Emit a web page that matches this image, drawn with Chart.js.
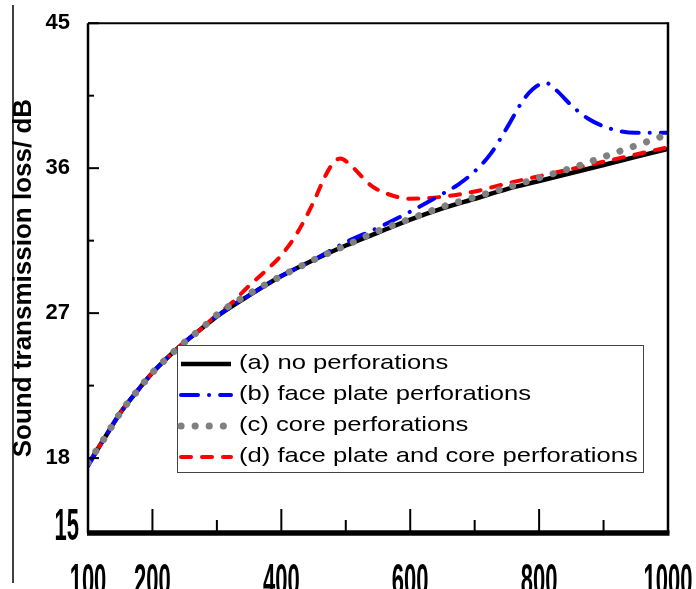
<!DOCTYPE html>
<html>
<head>
<meta charset="utf-8">
<script src="https://cdn.jsdelivr.net/npm/chart.js@4.4.1/dist/chart.umd.min.js"></script>
<style>
  html, body { margin: 0; padding: 0; background: #fff; }
  canvas { display: block; }
</style>
</head>
<body>
<canvas id="stl" width="696" height="589"></canvas>
<script>
// frequency (Hz) and sound transmission loss (dB)
const freqA = [100, 125, 150, 175, 200, 225, 250, 275, 300, 350, 400, 450, 500, 550, 600, 650, 700, 750, 800, 850, 900, 950, 1000];
const lossA = [17.6, 19.2, 20.8, 22.1, 23.3, 24.3, 25.2, 26.0, 26.8, 28.1, 29.3, 30.3, 31.2, 32.0, 32.8, 33.5, 34.1, 34.7, 35.2, 35.7, 36.2, 36.7, 37.2];

const freqB = [100, 125, 150, 175, 200, 225, 250, 275, 300, 350, 400, 450, 500, 550, 600, 650, 675, 700, 725, 750, 775, 790, 810, 825, 850, 875, 900, 925, 950, 1000];
const lossB = [17.5, 19.2, 20.8, 22.1, 23.3, 24.3, 25.2, 26.0, 26.8, 28.1, 29.3, 30.3, 31.4, 32.3, 33.3, 34.4, 35.0, 35.8, 36.9, 38.5, 40.2, 40.9, 41.3, 40.9, 39.9, 39.1, 38.6, 38.3, 38.2, 38.2];

const freqC = [100, 125, 150, 175, 200, 225, 250, 275, 300, 350, 400, 450, 500, 550, 600, 650, 700, 750, 800, 850, 900, 950, 1000];
const lossC = [17.7, 19.2, 20.8, 22.1, 23.3, 24.3, 25.2, 26.0, 26.9, 28.2, 29.3, 30.3, 31.2, 32.1, 32.85, 33.6, 34.2, 34.8, 35.4, 36.0, 36.7, 37.4, 38.1];

const freqD = [100, 125, 150, 175, 200, 225, 250, 275, 300, 325, 350, 375, 400, 425, 450, 468, 482, 492, 507, 540, 565, 600, 630, 665, 700, 750, 800, 850, 900, 950, 1000];
const lossD = [17.6, 19.2, 20.8, 22.1, 23.3, 24.3, 25.2, 26.0, 26.9, 27.7, 28.7, 29.6, 30.6, 32.0, 33.9, 35.5, 36.4, 36.6, 36.2, 34.9, 34.4, 34.1, 34.15, 34.3, 34.55, 35.05, 35.5, 35.95, 36.4, 36.85, 37.3];

const seriesLabels = [
  '(a) no perforations',
  '(b) face plate perforations',
  '(c) core perforations',
  '(d) face plate and core perforations'
];

const xTickVals = [100, 200, 300, 400, 500, 600, 700, 800, 900, 1000];
const xLabelVals = [100, 200, 400, 600, 800, 1000];
const yTickVals = [18, 27, 36, 45];
const yMinorVals = [22.5, 31.5, 40.5];
const yBottom = 13.35;      // where the axis floor sits on the original
const yBottomLabel = '15';  // ...and what it is labelled

function pts(xs, ys) {
  return xs.map((x, i) => ({ x: x, y: ys[i] }));
}

function seg(ctx, x1, y1, x2, y2) {
  ctx.beginPath();
  ctx.moveTo(x1, y1);
  ctx.lineTo(x2, y2);
  ctx.stroke();
}

// axis box, inward ticks and the stretched numerals
const framePlugin = {
  id: 'frame',
  afterDraw(chart) {
    const { ctx, chartArea: a, scales: { x, y } } = chart;
    ctx.save();
    ctx.strokeStyle = '#000';
    ctx.setLineDash([]);

    ctx.lineWidth = 1.5;
    seg(ctx, 13, 5, 13, 583);

    ctx.lineWidth = 2.5;
    seg(ctx, a.left, a.top, a.left, a.bottom);
    seg(ctx, a.right, a.top - 1, a.right, a.bottom);
    ctx.lineWidth = 2;
    seg(ctx, a.left, a.top, a.right, a.top);
    ctx.lineWidth = 5.5;
    seg(ctx, a.left - 1, a.bottom, a.right + 1.5, a.bottom);

    ctx.lineWidth = 2;
    xTickVals.forEach(v => {
      if (v === 100 || v === 1000) return;
      const px = x.getPixelForValue(v);
      const len = xLabelVals.includes(v) ? 24 : 13;
      seg(ctx, px, a.bottom, px, a.bottom - len);
    });
    yTickVals.forEach(v => {
      const py = y.getPixelForValue(v);
      seg(ctx, a.left, py, a.left + 11, py);
    });
    yMinorVals.forEach(v => {
      const py = y.getPixelForValue(v);
      seg(ctx, a.left, py, a.left + 6, py);
    });

    ctx.fillStyle = '#000';
    ctx.font = 'bold 22px "Liberation Sans", Arial, sans-serif';
    ctx.textBaseline = 'alphabetic';
    ctx.textAlign = 'center';
    xLabelVals.forEach(v => {
      ctx.save();
      ctx.translate(x.getPixelForValue(v), 595);
      ctx.scale(1, 2);
      ctx.fillText(String(v), 0, 0);
      ctx.restore();
    });
    ctx.textAlign = 'right';
    ctx.save();
    ctx.translate(79, 540);
    ctx.scale(1, 2);
    ctx.fillText(yBottomLabel, 0, 0);
    ctx.restore();

    ctx.restore();
  }
};

// boxed legend sitting inside the plot
const legendPlugin = {
  id: 'boxLegend',
  afterDraw(chart) {
    const ctx = chart.ctx;
    const bx = 177, by = 345, bw = 466, bh = 127;
    ctx.save();
    ctx.fillStyle = '#fff';
    ctx.fillRect(bx, by, bw, bh);
    ctx.strokeStyle = '#444';
    ctx.lineWidth = 1;
    ctx.setLineDash([]);
    ctx.strokeRect(bx + 0.5, by + 0.5, bw, bh);

    ctx.font = '21px "Liberation Sans", Arial, sans-serif';
    ctx.textBaseline = 'middle';
    ctx.textAlign = 'left';
    chart.data.datasets.forEach((ds, i) => {
      const ry = 363 + i * 31;
      ctx.strokeStyle = ds.borderColor;
      ctx.lineWidth = ds.borderWidth;
      ctx.lineCap = ds.borderCapStyle || 'butt';
      ctx.setLineDash(ds.borderDash || []);
      seg(ctx, 181, ry + 1, 231, ry + 1);
      ctx.setLineDash([]);
      ctx.fillStyle = '#000';
      ctx.save();
      ctx.translate(239, ry);
      ctx.scale(1.22, 1);
      ctx.fillText(ds.label, 0, 0);
      ctx.restore();
    });
    ctx.restore();
  }
};

new Chart(document.getElementById('stl'), {
  type: 'line',
  data: {
    datasets: [
      {
        label: seriesLabels[0],
        data: pts(freqA, lossA),
        borderColor: '#000000',
        borderWidth: 4.5,
        order: 4
      },
      {
        label: seriesLabels[1],
        data: pts(freqB, lossB),
        borderColor: '#0000ff',
        borderWidth: 4,
        borderDash: [17, 11, 0.1, 11],
        borderCapStyle: 'round',
        order: 2
      },
      {
        label: seriesLabels[2],
        data: pts(freqC, lossC),
        borderColor: '#808080',
        borderWidth: 7,
        borderDash: [0.1, 14],
        borderCapStyle: 'round',
        order: 1
      },
      {
        label: seriesLabels[3],
        data: pts(freqD, lossD),
        borderColor: '#ff0000',
        borderWidth: 4,
        borderDash: [10, 11],
        borderCapStyle: 'round',
        order: 3
      }
    ]
  },
  options: {
    responsive: false,
    animation: false,
    layout: { padding: { top: 16, right: 28, left: 0, bottom: 0 } },
    elements: {
      point: { radius: 0 },
      line: { cubicInterpolationMode: 'monotone', fill: false }
    },
    plugins: {
      legend: { display: false },
      tooltip: { enabled: false }
    },
    scales: {
      x: {
        type: 'linear',
        min: 100,
        max: 1000,
        grid: { display: false },
        border: { display: false },
        ticks: { display: false },
        afterBuildTicks: s => { s.ticks = xTickVals.map(v => ({ value: v })); },
        afterFit: s => { s.height = 56; }
      },
      y: {
        type: 'linear',
        min: yBottom,
        max: 45,
        grid: { display: false },
        border: { display: false },
        afterBuildTicks: s => { s.ticks = yTickVals.map(v => ({ value: v })); },
        afterFit: s => { s.width = 88; },
        ticks: {
          color: '#000',
          padding: 10,
          font: { family: '"Liberation Sans", Arial, sans-serif', size: 22, weight: 'bold' },
          callback: v => String(v)
        },
        title: {
          display: true,
          text: 'Sound transmission loss/ dB',
          color: '#000',
          font: { family: '"Liberation Sans", Arial, sans-serif', size: 26, weight: 'bold' },
          padding: { top: 8, bottom: 0 }
        }
      }
    }
  },
  plugins: [framePlugin, legendPlugin]
});
</script>
</body>
</html>
